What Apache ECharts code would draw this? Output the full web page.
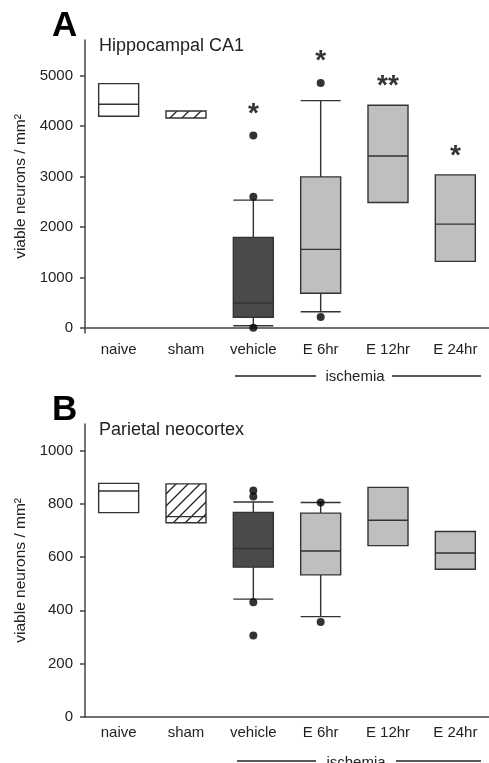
<!DOCTYPE html>
<html>
<head>
<meta charset="utf-8">
<script src="https://cdn.jsdelivr.net/npm/echarts@6/dist/echarts.min.js"></script>
<style>
html,body{margin:0;padding:0;background:#fff;}
#c{width:489px;height:763px;}
</style>
</head>
<body>
<div id="c"></div>
<script>
const categories = ['naive', 'sham', 'vehicle', 'E 6hr', 'E 12hr', 'E 24hr'];

// Panel A: Hippocampal CA1  [min, Q1, median, Q3, max]
const boxA = [
  [4190, 4190, 4427, 4836, 4836],
  [4156, 4156, 4156, 4294, 4294],
  [45, 211, 494, 1792, 2530],
  [322, 686, 1555, 2990, 4500],
  [2484, 2484, 3405, 4407, 4407],
  [1318, 1318, 2055, 3030, 3030]
];
const outliersA = [
  ['vehicle', 3808], ['vehicle', 2595], ['vehicle', 5],
  ['E 6hr', 4848], ['E 6hr', 217]
];
const starsA = [
  ['vehicle', 4342, '*'], ['E 6hr', 5395, '*'],
  ['E 12hr', 4901, '**'], ['E 24hr', 3518, '*']
];
const ticksA = [0, 1000, 2000, 3000, 4000, 5000];

// Panel B: Parietal neocortex
const boxB = [
  [767, 767, 848, 877, 877],
  [729, 729, 752, 875, 875],
  [442, 562, 632, 768, 807],
  [376, 533, 623, 765, 805],
  [643, 643, 738, 862, 862],
  [554, 554, 615, 696, 696]
];
const outliersB = [
  ['vehicle', 850], ['vehicle', 828], ['vehicle', 430], ['vehicle', 305],
  ['E 6hr', 805], ['E 6hr', 356]
];
const ticksB = [0, 200, 400, 600, 800, 1000];

// hatch pattern
function makeHatch() {
  const c = document.createElement('canvas');
  const s = 12;
  c.width = s; c.height = s;
  const g = c.getContext('2d');
  g.fillStyle = '#fff';
  g.fillRect(0, 0, s, s);
  g.strokeStyle = '#222';
  g.lineWidth = 1.3;
  g.beginPath();
  g.moveTo(-1, s + 1); g.lineTo(s + 1, -1);
  g.moveTo(-1, 1); g.lineTo(1, -1);
  g.moveTo(s - 1, s + 1); g.lineTo(s + 1, s - 1);
  g.stroke();
  return c;
}
const hatch = { image: makeHatch(), repeat: 'repeat' };
const fills = ['#ffffff', hatch, '#4a4a4a', '#bfbfbf', '#bfbfbf', '#bfbfbf'];

const FONT = 'Liberation Sans, Arial, sans-serif';
const AX = '#444';

function boxData(arr) {
  return arr.map((v, i) => ({
    value: v,
    itemStyle: { color: fills[i], borderColor: '#333', borderWidth: 1.4 }
  }));
}
function pts(arr) {
  return arr.map(d => [categories.indexOf(d[0]), d[1]]);
}

function xAx(gi) {
  return {
    type: 'category', gridIndex: gi, data: categories,
    axisLine: { lineStyle: { color: AX, width: 1.5 } },
    axisTick: { show: false },
    axisLabel: { color: '#222', fontSize: 15, fontFamily: FONT, margin: 9 }
  };
}
function yAx(gi, min, max, ticks) {
  return {
    type: 'value', gridIndex: gi, min: min, max: max,
    name: 'viable neurons / mm²', nameLocation: 'middle', nameGap: 55,
    nameTextStyle: { color: '#222', fontSize: 15.5, fontFamily: FONT },
    splitLine: { show: false },
    axisLine: { show: true, lineStyle: { color: AX, width: 1.5 } },
    axisTick: { show: true, length: 5, lineStyle: { color: AX, width: 1.5 }, customValues: ticks },
    axisLabel: { color: '#222', fontSize: 15, fontFamily: FONT, margin: 12, customValues: ticks, formatter: v => String(v) }
  };
}

const chart = echarts.init(document.getElementById('c'));
chart.setOption({
  animation: false,
  backgroundColor: '#fff',
  grid: [
    { left: 85, top: 40, width: 407, height: 293 },
    { left: 85, top: 424, width: 407, height: 292.7 }
  ],
  xAxis: [xAx(0), xAx(1)],
  yAxis: [yAx(0, -100, 5700, ticksA), yAx(1, 0, 1100, ticksB)],
  series: [
    { type: 'boxplot', xAxisIndex: 0, yAxisIndex: 0, boxWidth: [40, 40], data: boxData(boxA) },
    { type: 'scatter', xAxisIndex: 0, yAxisIndex: 0, symbolSize: 8, itemStyle: { color: '#000' }, data: pts(outliersA), z: 5 },
    {
      type: 'scatter', xAxisIndex: 0, yAxisIndex: 0, symbolSize: 0,
      data: starsA.map(d => ({ value: [categories.indexOf(d[0]), d[1]], name: d[2] })),
      label: { show: true, position: 'inside', formatter: p => p.name, color: '#000', fontSize: 28, fontWeight: 'bold', fontFamily: FONT, offset: [0, 6] }
    },
    { type: 'boxplot', xAxisIndex: 1, yAxisIndex: 1, boxWidth: [40, 40], data: boxData(boxB) },
    { type: 'scatter', xAxisIndex: 1, yAxisIndex: 1, symbolSize: 8, itemStyle: { color: '#000' }, data: pts(outliersB), z: 5 }
  ],
  graphic: [
    { type: 'text', left: 52, top: 9, style: { text: 'A', font: 'bold 35px ' + FONT, fill: '#000' } },
    { type: 'text', left: 52, top: 393, style: { text: 'B', font: 'bold 35px ' + FONT, fill: '#000' } },
    { type: 'text', left: 99, top: 37, style: { text: 'Hippocampal CA1', font: '18px ' + FONT, fill: '#222' } },
    { type: 'text', left: 99, top: 421, style: { text: 'Parietal neocortex', font: '18px ' + FONT, fill: '#222' } },
    { type: 'line', shape: { x1: 235, y1: 376, x2: 316, y2: 376 }, style: { stroke: '#222', lineWidth: 1.3 } },
    { type: 'line', shape: { x1: 392, y1: 376, x2: 481, y2: 376 }, style: { stroke: '#222', lineWidth: 1.3 } },
    { type: 'text', x: 355, y: 377, style: { text: 'ischemia', font: '15px ' + FONT, fill: '#222', align: 'center', verticalAlign: 'middle' } },
    { type: 'line', shape: { x1: 237, y1: 761, x2: 316, y2: 761 }, style: { stroke: '#222', lineWidth: 1.3 } },
    { type: 'line', shape: { x1: 396, y1: 761, x2: 481, y2: 761 }, style: { stroke: '#222', lineWidth: 1.3 } },
    { type: 'text', x: 356, y: 763, style: { text: 'ischemia', font: '15px ' + FONT, fill: '#222', align: 'center', verticalAlign: 'middle' } }
  ]
});
</script>
</body>
</html>
